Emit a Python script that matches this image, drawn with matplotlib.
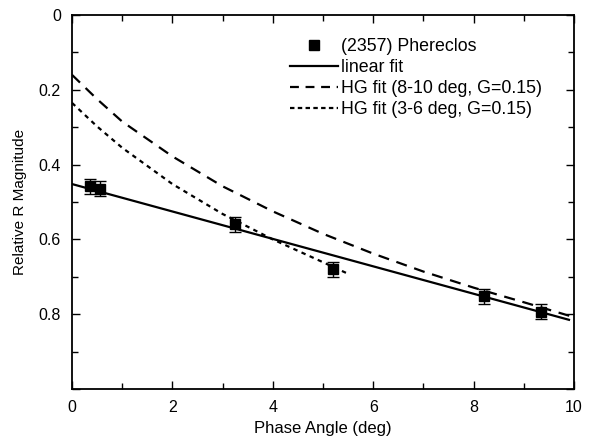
import numpy as np
import matplotlib.pyplot as plt
from matplotlib.lines import Line2D
from matplotlib.ticker import FixedLocator, MultipleLocator, FuncFormatter

plt.rcParams['font.family'] = ['Liberation Sans', 'DejaVu Sans']

# observed points, (2357) Phereclos
phase = [0.35, 0.55, 3.25, 5.2, 8.2, 9.35]
mag = [0.458, 0.465, 0.560, 0.680, 0.752, 0.793]
mag_err = [0.02, 0.02, 0.02, 0.02, 0.02, 0.02]

# linear fit (endpoints)
lin_x = [0.0, 9.9]
lin_y = [0.452, 0.815]

# HG fit, 8-10 deg, G=0.15
hg1_x = [0.0, 0.5, 1, 2, 3, 4, 5, 6, 7, 8, 9, 9.95]
hg1_y = [0.160, 0.225, 0.285, 0.378, 0.458, 0.525, 0.585, 0.638, 0.686, 0.729, 0.768, 0.806]

# HG fit, 3-6 deg, G=0.15
hg2_x = [0.0, 0.5, 1, 2, 3, 4, 5, 5.5]
hg2_y = [0.235, 0.298, 0.355, 0.452, 0.532, 0.600, 0.661, 0.692]

labels = ['(2357) Phereclos', 'linear fit',
          'HG fit (8-10 deg, G=0.15)', 'HG fit (3-6 deg, G=0.15)']

fig = plt.figure(figsize=(5.93, 4.42), dpi=100)
ax = fig.add_axes([72 / 593, 1 - 389 / 442, 502 / 593, 374 / 442])

ax.errorbar(phase, mag, yerr=mag_err, fmt='s', color='black', markersize=7,
            ecolor='black', elinewidth=1.0, capsize=4, capthick=1.0, zorder=5)
ax.plot(lin_x, lin_y, '-', color='black', lw=1.6)
ax.plot(hg1_x, hg1_y, color='black', lw=1.6, dashes=(5, 3.5))
ax.plot(hg2_x, hg2_y, color='black', lw=1.6, dashes=(2, 2))

ax.set_xlim(0, 10)
ax.set_ylim(1.0, 0.0)

ax.xaxis.set_major_locator(MultipleLocator(2))
ax.xaxis.set_minor_locator(MultipleLocator(1))
ax.yaxis.set_major_locator(FixedLocator([0, 0.2, 0.4, 0.6, 0.8, 1.0]))
ax.yaxis.set_minor_locator(FixedLocator([0.1, 0.3, 0.5, 0.7, 0.9]))


def yfmt(v, pos):
    if abs(v) < 1e-9:
        return '0'
    if abs(v - 1.0) < 1e-9:
        return ''
    return '%.1f' % v


ax.yaxis.set_major_formatter(FuncFormatter(yfmt))
ax.tick_params(which='both', direction='in', top=True, right=True,
               labelsize=11.5, width=1.0)
ax.tick_params(which='major', length=6, pad=8)
ax.tick_params(which='minor', length=4)
for s in ax.spines.values():
    s.set_linewidth(1.3)

ax.set_xlabel('Phase Angle (deg)', fontsize=12, labelpad=4)
ax.set_ylabel('Relative R Magnitude', fontsize=11, labelpad=8)

handles = [
    Line2D([], [], ls='none', marker='s', color='black', markersize=6.5),
    Line2D([], [], ls='-', color='black', lw=1.6),
    Line2D([], [], color='black', lw=1.6, dashes=(4, 3)),
    Line2D([], [], color='black', lw=1.6, dashes=(2, 1.5)),
]
ax.legend(handles, labels, loc='upper left',
          bbox_to_anchor=((290 - 72) / 502, (389 - 38) / 374),
          frameon=False, fontsize=12.8, handlelength=2.7, handletextpad=0.15,
          labelspacing=0.22, borderpad=0, borderaxespad=0)

fig.savefig('out.png', dpi=100)
